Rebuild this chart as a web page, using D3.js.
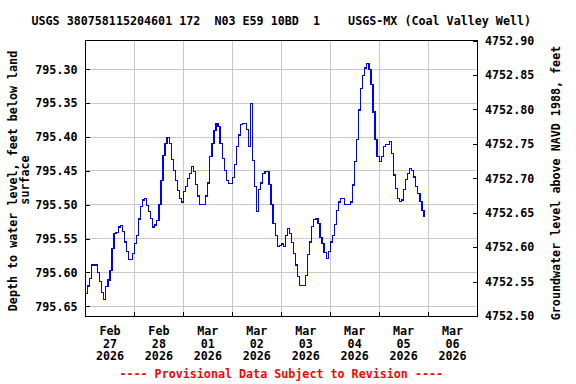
<!DOCTYPE html>
<html>
<head>
<meta charset="utf-8">
<script src="https://cdn.jsdelivr.net/npm/d3@7"></script>
<style>
  body { margin: 0; background: #fff; }
  svg text { font-family: "DejaVu Sans Mono", monospace; font-weight: bold; font-size: 11.7px; }
</style>
</head>
<body>
<svg id="chart" width="576" height="384"></svg>
<script>
// hourly readings, depth to water (ft below land surface), starting Feb 27 2026 00:00
const startTime = new Date(2026, 1, 27, 0, 0);
const depthFt = [
  795.631, 795.620, 795.609, 795.589, 795.589, 795.589, 795.600, 795.613, 795.630, 795.640,
  795.621, 795.611, 795.597, 795.565, 795.542, 795.541, 795.533, 795.531, 795.540, 795.555,
  795.569, 795.581, 795.581, 795.572, 795.557, 795.545, 795.521, 795.503, 795.493, 795.491,
  795.501, 795.510, 795.520, 795.533, 795.530, 795.523, 795.500, 795.464, 795.427, 795.410,
  795.401, 795.409, 795.433, 795.449, 795.464, 795.479, 795.491, 795.496, 795.481, 795.473,
  795.461, 795.454, 795.444, 795.451, 795.470, 795.487, 795.500, 795.500, 795.500, 795.487,
  795.468, 795.429, 795.409, 795.390, 795.380, 795.385, 795.409, 795.432, 795.449, 795.464,
  795.469, 795.469, 795.460, 795.441, 795.414, 795.397, 795.382, 795.380, 795.380, 795.389,
  795.414, 795.350, 795.435, 795.473, 795.510, 795.478, 795.468, 795.454, 795.451, 795.451,
  795.470, 795.500, 795.528, 795.545, 795.562, 795.560, 795.558, 795.562, 795.546, 795.535,
  795.542, 795.556, 795.572, 795.589, 795.606, 795.619, 795.619, 795.619, 795.604, 795.574,
  795.555, 795.532, 795.522, 795.520, 795.528, 795.548, 795.557, 795.571, 795.579, 795.569,
  795.555, 795.545, 795.529, 795.508, 795.496, 795.491, 795.491, 795.500, 795.500, 795.500,
  795.496, 795.471, 795.436, 795.404, 795.360, 795.328, 795.309, 795.298, 795.291, 795.300,
  795.323, 795.363, 795.404, 795.429, 795.436, 795.429, 795.414, 795.411, 795.411, 795.407,
  795.424, 795.456, 795.476, 795.491, 795.495, 795.493, 795.478, 795.463, 795.454, 795.446,
  795.449, 795.459, 795.473, 795.483, 795.495, 795.508, 795.518
];

const depthTicks = [795.30, 795.35, 795.40, 795.45, 795.50, 795.55, 795.60, 795.65];
const elevTicks = [4752.50, 4752.55, 4752.60, 4752.65, 4752.70, 4752.75, 4752.80, 4752.85, 4752.90];
const dayMonths = ["Feb", "Feb", "Mar", "Mar", "Mar", "Mar", "Mar", "Mar"];
const dayNums = ["27", "28", "01", "02", "03", "04", "05", "06"];
const dayYears = ["2026", "2026", "2026", "2026", "2026", "2026", "2026", "2026"];

const titleText = "USGS 380758115204601 172  N03 E59 10BD  1    USGS-MX (Coal Valley Well)";

const svg = d3.select("#chart");
const pLeft = 85.5, pRight = 477, pTop = 40.5, pBottom = 316;

const x = d3.scaleTime()
  .domain([startTime, d3.timeDay.offset(startTime, 8)])
  .range([pLeft, pRight]);

const y = d3.scaleLinear()
  .domain([795.2575, 795.6643])
  .range([pTop, pBottom]);

const y2 = d3.scaleLinear()
  .domain([4752.50, 4752.90])
  .range([pBottom, pTop]);

const data = depthFt.map((d, i) => ({ t: d3.timeHour.offset(startTime, i), d }));
const days = d3.timeDay.range(startTime, d3.timeDay.offset(startTime, 8));

// grid
svg.append("g")
  .attr("shape-rendering", "crispEdges")
  .selectAll("line")
  .data(depthTicks)
  .join("line")
    .attr("x1", pLeft).attr("x2", pRight)
    .attr("y1", d => y(d)).attr("y2", d => y(d))
    .attr("stroke", "#c8c8c8");

svg.append("g")
  .attr("shape-rendering", "crispEdges")
  .selectAll("line")
  .data(days.slice(1))
  .join("line")
    .attr("x1", d => x(d)).attr("x2", d => x(d))
    .attr("y1", pTop).attr("y2", pBottom)
    .attr("stroke", "#c8c8c8");

// line
svg.append("path")
  .datum(data)
  .attr("fill", "none")
  .attr("stroke", "#0000ff")
  .attr("stroke-width", 1.2)
  .attr("shape-rendering", "crispEdges")
  .attr("d", d3.line()
    .curve(d3.curveStepAfter)
    .x(p => x(p.t))
    .y(p => y(p.d)));

// axes
const leftAxis = svg.append("g")
  .attr("transform", `translate(${pLeft},0)`)
  .call(d3.axisLeft(y).tickValues(depthTicks).tickFormat(d3.format(".2f"))
    .tickSizeInner(-4).tickSizeOuter(0).tickPadding(8));

const rightAxis = svg.append("g")
  .attr("transform", `translate(${pRight},0)`)
  .call(d3.axisRight(y2).tickValues(elevTicks).tickFormat(d3.format(".2f"))
    .tickSizeInner(-4).tickSizeOuter(0).tickPadding(8));

[leftAxis, rightAxis].forEach(g => {
  g.select(".domain").remove();
  g.attr("font-family", null).attr("font-size", null);
  g.selectAll("text").attr("fill", "#000");
  g.selectAll("line").attr("stroke", "#000").attr("shape-rendering", "crispEdges");
});

// bottom ticks
svg.append("g")
  .attr("shape-rendering", "crispEdges")
  .selectAll("line")
  .data(days.slice(1))
  .join("line")
    .attr("x1", d => x(d)).attr("x2", d => x(d))
    .attr("y1", pBottom - 4).attr("y2", pBottom)
    .attr("stroke", "#000");

// frame
svg.append("rect")
  .attr("x", pLeft).attr("y", pTop)
  .attr("width", pRight - pLeft).attr("height", pBottom - pTop)
  .attr("fill", "none").attr("stroke", "#000")
  .attr("shape-rendering", "crispEdges");

// date labels
const dateG = svg.append("g").attr("text-anchor", "middle");
days.forEach((d, i) => {
  const cx = x(d3.timeHour.offset(d, 12));
  dateG.append("text").attr("x", cx).attr("y", 335).text(dayMonths[i]);
  dateG.append("text").attr("x", cx).attr("y", 347.5).text(dayNums[i]);
  dateG.append("text").attr("x", cx).attr("y", 360).text(dayYears[i]);
});

// title
svg.append("text")
  .attr("x", (pLeft + pRight) / 2).attr("y", 24.5)
  .attr("text-anchor", "middle")
  .style("white-space", "pre")
  .text(titleText);

// axis titles
svg.append("text")
  .attr("transform", "translate(17,181) rotate(-90)")
  .attr("text-anchor", "middle")
  .text("Depth to water level, feet below land");
svg.append("text")
  .attr("transform", "translate(29,180) rotate(-90)")
  .attr("text-anchor", "middle")
  .text("surface");
svg.append("text")
  .attr("transform", "translate(560,183) rotate(-90)")
  .attr("text-anchor", "middle")
  .text("Groundwater level above NAVD 1988, feet");

// footer
svg.append("text")
  .attr("x", (pLeft + pRight) / 2).attr("y", 378)
  .attr("text-anchor", "middle")
  .attr("fill", "#ff0000")
  .text("---- Provisional Data Subject to Revision ----");
</script>
</body>
</html>
